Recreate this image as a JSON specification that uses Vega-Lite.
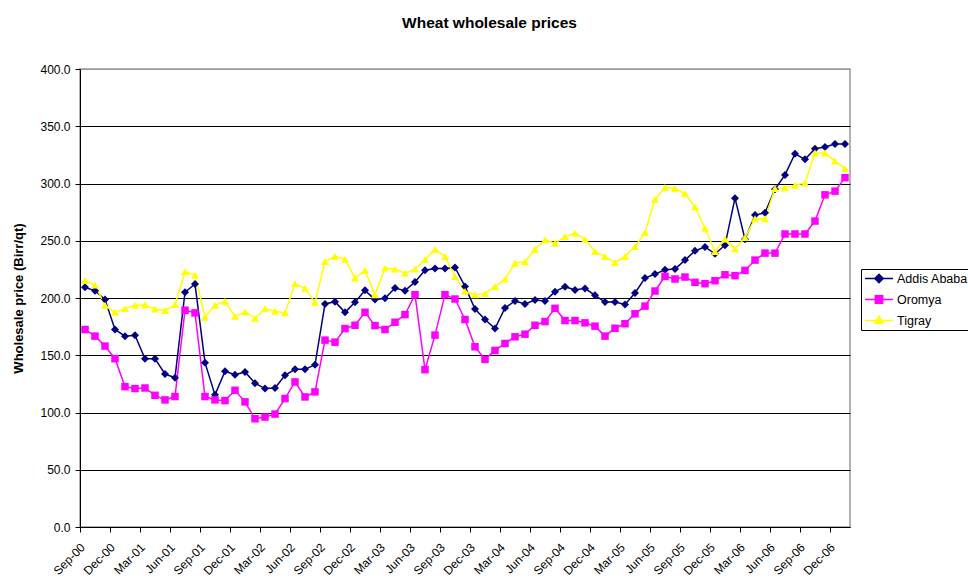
{
  "$schema": "https://vega.github.io/schema/vega-lite/v6.json",
  "width": 770,
  "height": 458,
  "autosize": "none",
  "padding": {"left": 80, "top": 69, "right": 118, "bottom": 53},
  "background": "white",
  "config": {
    "font": "Liberation Sans",
    "view": {"stroke": "#999999", "strokeWidth": 1.5}
  },
  "title": {
    "text": "Wheat wholesale prices",
    "fontSize": 15.5,
    "fontWeight": "bold",
    "color": "black",
    "anchor": "middle",
    "dx": 24.5,
    "offset": 20,
    "baseline": "alphabetic"
  },
  "data": {
    "values": [
      {"month": "Sep-00", "Addis Ababa": 209.3, "Oromya": 172.5, "Tigray": 215.4},
      {"month": "Oct-00", "Addis Ababa": 206.4, "Oromya": 166.7, "Tigray": 211.3},
      {"month": "Nov-00", "Addis Ababa": 198.6, "Oromya": 158.0, "Tigray": 193.6},
      {"month": "Dec-00", "Addis Ababa": 172.5, "Oromya": 147.0, "Tigray": 187.5},
      {"month": "Jan-01", "Addis Ababa": 166.7, "Oromya": 122.6, "Tigray": 190.7},
      {"month": "Feb-01", "Addis Ababa": 167.5, "Oromya": 120.9, "Tigray": 193.6},
      {"month": "Mar-01", "Addis Ababa": 147.0, "Oromya": 121.4, "Tigray": 193.9},
      {"month": "Apr-01", "Addis Ababa": 147.0, "Oromya": 115.0, "Tigray": 190.4},
      {"month": "May-01", "Addis Ababa": 133.6, "Oromya": 111.0, "Tigray": 189.0},
      {"month": "Jun-01", "Addis Ababa": 130.4, "Oromya": 113.9, "Tigray": 194.2},
      {"month": "Jul-01", "Addis Ababa": 205.0, "Oromya": 189.3, "Tigray": 222.9},
      {"month": "Aug-01", "Addis Ababa": 212.2, "Oromya": 187.0, "Tigray": 220.0},
      {"month": "Sep-01", "Addis Ababa": 143.5, "Oromya": 113.9, "Tigray": 183.2},
      {"month": "Oct-01", "Addis Ababa": 115.4, "Oromya": 111.0, "Tigray": 193.6},
      {"month": "Nov-01", "Addis Ababa": 136.0, "Oromya": 110.4, "Tigray": 197.1},
      {"month": "Dec-01", "Addis Ababa": 133.0, "Oromya": 119.4, "Tigray": 184.0},
      {"month": "Jan-02", "Addis Ababa": 135.4, "Oromya": 109.3, "Tigray": 188.0},
      {"month": "Feb-02", "Addis Ababa": 125.6, "Oromya": 94.5, "Tigray": 182.2},
      {"month": "Mar-02", "Addis Ababa": 120.9, "Oromya": 96.0, "Tigray": 190.7},
      {"month": "Apr-02", "Addis Ababa": 121.4, "Oromya": 98.6, "Tigray": 188.4},
      {"month": "May-02", "Addis Ababa": 132.5, "Oromya": 112.2, "Tigray": 187.0},
      {"month": "Jun-02", "Addis Ababa": 137.7, "Oromya": 126.7, "Tigray": 212.5},
      {"month": "Jul-02", "Addis Ababa": 137.7, "Oromya": 113.6, "Tigray": 208.4},
      {"month": "Aug-02", "Addis Ababa": 141.7, "Oromya": 118.0, "Tigray": 196.2},
      {"month": "Sep-02", "Addis Ababa": 194.8, "Oromya": 163.2, "Tigray": 231.9},
      {"month": "Oct-02", "Addis Ababa": 196.8, "Oromya": 161.4, "Tigray": 236.2},
      {"month": "Nov-02", "Addis Ababa": 187.5, "Oromya": 173.3, "Tigray": 233.9},
      {"month": "Dec-02", "Addis Ababa": 196.2, "Oromya": 176.2, "Tigray": 217.4},
      {"month": "Jan-03", "Addis Ababa": 206.7, "Oromya": 187.5, "Tigray": 224.1},
      {"month": "Feb-03", "Addis Ababa": 198.6, "Oromya": 175.9, "Tigray": 202.9},
      {"month": "Mar-03", "Addis Ababa": 199.7, "Oromya": 172.5, "Tigray": 226.1},
      {"month": "Apr-03", "Addis Ababa": 208.7, "Oromya": 178.8, "Tigray": 225.2},
      {"month": "May-03", "Addis Ababa": 206.4, "Oromya": 185.5, "Tigray": 221.7},
      {"month": "Jun-03", "Addis Ababa": 213.9, "Oromya": 202.9, "Tigray": 225.2},
      {"month": "Jul-03", "Addis Ababa": 224.2, "Oromya": 137.4, "Tigray": 233.6},
      {"month": "Aug-03", "Addis Ababa": 225.8, "Oromya": 167.6, "Tigray": 242.3},
      {"month": "Sep-03", "Addis Ababa": 225.8, "Oromya": 202.9, "Tigray": 236.2},
      {"month": "Oct-03", "Addis Ababa": 226.7, "Oromya": 199.1, "Tigray": 218.8},
      {"month": "Nov-03", "Addis Ababa": 210.1, "Oromya": 181.2, "Tigray": 205.8},
      {"month": "Dec-03", "Addis Ababa": 190.4, "Oromya": 157.4, "Tigray": 202.9},
      {"month": "Jan-04", "Addis Ababa": 181.2, "Oromya": 146.4, "Tigray": 203.8},
      {"month": "Feb-04", "Addis Ababa": 173.3, "Oromya": 154.2, "Tigray": 210.1},
      {"month": "Mar-04", "Addis Ababa": 191.3, "Oromya": 160.3, "Tigray": 216.5},
      {"month": "Apr-04", "Addis Ababa": 197.4, "Oromya": 166.1, "Tigray": 230.4},
      {"month": "May-04", "Addis Ababa": 194.8, "Oromya": 168.4, "Tigray": 231.6},
      {"month": "Jun-04", "Addis Ababa": 198.3, "Oromya": 176.2, "Tigray": 242.6},
      {"month": "Jul-04", "Addis Ababa": 197.4, "Oromya": 179.4, "Tigray": 250.7},
      {"month": "Aug-04", "Addis Ababa": 205.5, "Oromya": 191.0, "Tigray": 247.8},
      {"month": "Sep-04", "Addis Ababa": 209.9, "Oromya": 180.3, "Tigray": 253.6},
      {"month": "Oct-04", "Addis Ababa": 207.0, "Oromya": 180.3, "Tigray": 256.5},
      {"month": "Nov-04", "Addis Ababa": 208.4, "Oromya": 178.3, "Tigray": 251.3},
      {"month": "Dec-04", "Addis Ababa": 202.3, "Oromya": 175.4, "Tigray": 240.6},
      {"month": "Jan-05", "Addis Ababa": 196.5, "Oromya": 166.7, "Tigray": 236.2},
      {"month": "Feb-05", "Addis Ababa": 196.5, "Oromya": 173.6, "Tigray": 231.0},
      {"month": "Mar-05", "Addis Ababa": 194.3, "Oromya": 177.5, "Tigray": 236.3},
      {"month": "Apr-05", "Addis Ababa": 204.4, "Oromya": 186.2, "Tigray": 245.0},
      {"month": "May-05", "Addis Ababa": 217.4, "Oromya": 192.9, "Tigray": 257.1},
      {"month": "Jun-05", "Addis Ababa": 220.9, "Oromya": 206.1, "Tigray": 286.3},
      {"month": "Jul-05", "Addis Ababa": 224.7, "Oromya": 218.9, "Tigray": 296.5},
      {"month": "Aug-05", "Addis Ababa": 225.3, "Oromya": 216.6, "Tigray": 295.6},
      {"month": "Sep-05", "Addis Ababa": 233.1, "Oromya": 218.3, "Tigray": 291.2},
      {"month": "Oct-05", "Addis Ababa": 241.2, "Oromya": 213.7, "Tigray": 279.7},
      {"month": "Nov-05", "Addis Ababa": 244.6, "Oromya": 212.5, "Tigray": 260.9},
      {"month": "Dec-05", "Addis Ababa": 238.6, "Oromya": 215.1, "Tigray": 240.6},
      {"month": "Jan-06", "Addis Ababa": 246.1, "Oromya": 220.3, "Tigray": 251.6},
      {"month": "Feb-06", "Addis Ababa": 287.2, "Oromya": 219.5, "Tigray": 242.9},
      {"month": "Mar-06", "Addis Ababa": 251.3, "Oromya": 224.1, "Tigray": 252.7},
      {"month": "Apr-06", "Addis Ababa": 272.4, "Oromya": 233.1, "Tigray": 269.2},
      {"month": "May-06", "Addis Ababa": 274.5, "Oromya": 239.2, "Tigray": 269.2},
      {"month": "Jun-06", "Addis Ababa": 295.0, "Oromya": 239.2, "Tigray": 295.6},
      {"month": "Jul-06", "Addis Ababa": 307.5, "Oromya": 255.9, "Tigray": 296.2},
      {"month": "Aug-06", "Addis Ababa": 326.0, "Oromya": 255.9, "Tigray": 298.5},
      {"month": "Sep-06", "Addis Ababa": 321.1, "Oromya": 255.9, "Tigray": 300.5},
      {"month": "Oct-06", "Addis Ababa": 330.3, "Oromya": 267.2, "Tigray": 326.6},
      {"month": "Nov-06", "Addis Ababa": 331.8, "Oromya": 290.1, "Tigray": 326.6},
      {"month": "Dec-06", "Addis Ababa": 334.4, "Oromya": 293.3, "Tigray": 319.6},
      {"month": "Jan-07", "Addis Ababa": 334.4, "Oromya": 305.1, "Tigray": 313.0}
    ]
  },
  "transform": [
    {"fold": ["Addis Ababa", "Oromya", "Tigray"], "as": ["region", "price"]}
  ],
  "encoding": {
    "x": {
      "field": "month",
      "type": "ordinal",
      "sort": null,
      "bandPosition": 0.5,
      "scale": {"type": "band", "paddingInner": 0, "paddingOuter": 0},
      "axis": {
        "title": null,
        "values": ["Sep-00", "Dec-00", "Mar-01", "Jun-01", "Sep-01", "Dec-01", "Mar-02", "Jun-02", "Sep-02", "Dec-02", "Mar-03", "Jun-03", "Sep-03", "Dec-03", "Mar-04", "Jun-04", "Sep-04", "Dec-04", "Mar-05", "Jun-05", "Sep-05", "Dec-05", "Mar-06", "Jun-06", "Sep-06", "Dec-06"],
        "bandPosition": 0,
        "labelAngle": -45,
        "labelAlign": "right",
        "labelBaseline": "middle",
        "labelPadding": 13,
        "labelOffset": -2,
        "labelFontSize": 12,
        "labelColor": "black",
        "labelFont": "Liberation Sans",
        "tickSize": 5,
        "tickColor": "black",
        "domainColor": "black",
        "grid": false
      }
    },
    "y": {
      "field": "price",
      "type": "quantitative",
      "scale": {"domain": [0, 400], "nice": false},
      "axis": {
        "title": "Wholesale price (Birr/qt)",
        "values": [0, 50, 100, 150, 200, 250, 300, 350, 400],
        "format": ".1f",
        "grid": true,
        "gridColor": {"condition": {"test": "datum.value === 400", "value": "#999999"}, "value": "black"},
        "gridWidth": 1,
        "tickSize": 5,
        "tickColor": "black",
        "domainColor": "black",
        "labelFontSize": 12,
        "labelColor": "black",
        "labelFont": "Liberation Sans",
        "labelPadding": 5,
        "titleFontSize": 13,
        "titleFontWeight": "bold",
        "titleColor": "black",
        "titleFont": "Liberation Sans",
        "titleX": -62,
        "titleY": 229,
        "titleAngle": -90,
        "titleAlign": "center",
        "titleBaseline": "middle"
      }
    },
    "color": {
      "field": "region",
      "type": "nominal",
      "scale": {"domain": ["Addis Ababa", "Oromya", "Tigray"], "range": ["#000080", "#FF00FF", "#FFFF00"]},
      "legend": {
        "title": null,
        "orient": "none",
        "legendX": 781,
        "legendY": 200,
        "padding": 3,
        "strokeColor": "black",
        "fillColor": "white",
        "symbolSize": 784,
        "symbolStrokeWidth": 1.5,
        "clipHeight": 13,
        "rowPadding": 8,
        "labelFontSize": 12.5,
        "labelColor": "black",
        "labelFont": "Liberation Sans",
        "labelOffset": 3,
        "encode": {
          "symbols": {
            "update": {
              "shape": {"signal": "datum.value === 'Addis Ababa' ? 'M-1,0L1,0M0,-0.3L0.3,0L0,0.3L-0.3,0Z' : datum.value === 'Oromya' ? 'M-1,0L1,0M-0.26,-0.26L0.26,-0.26L0.26,0.26L-0.26,0.26Z' : 'M-1,0L1,0M0,-0.3L0.28,0.2L-0.28,0.2Z'"},
              "fill": {"signal": "scale('color', datum.value)"},
              "stroke": {"signal": "scale('color', datum.value)"},
              "strokeWidth": {"value": 1.5},
              "opacity": {"value": 1}
            }
          }
        }
      }
    }
  },
  "layer": [
    {"mark": {"type": "line", "strokeWidth": 1.5}, "encoding": {}},
    {
      "transform": [{"filter": {"field": "region", "equal": "Addis Ababa"}}],
      "mark": {"type": "point", "shape": "diamond", "filled": true, "size": 64, "opacity": 1}
    },
    {
      "transform": [{"filter": {"field": "region", "equal": "Oromya"}}],
      "mark": {"type": "point", "shape": "square", "filled": true, "size": 56, "opacity": 1}
    },
    {
      "transform": [{"filter": {"field": "region", "equal": "Tigray"}}],
      "mark": {"type": "point", "shape": "triangle-up", "filled": true, "size": 64, "opacity": 1}
    }
  ]
}
